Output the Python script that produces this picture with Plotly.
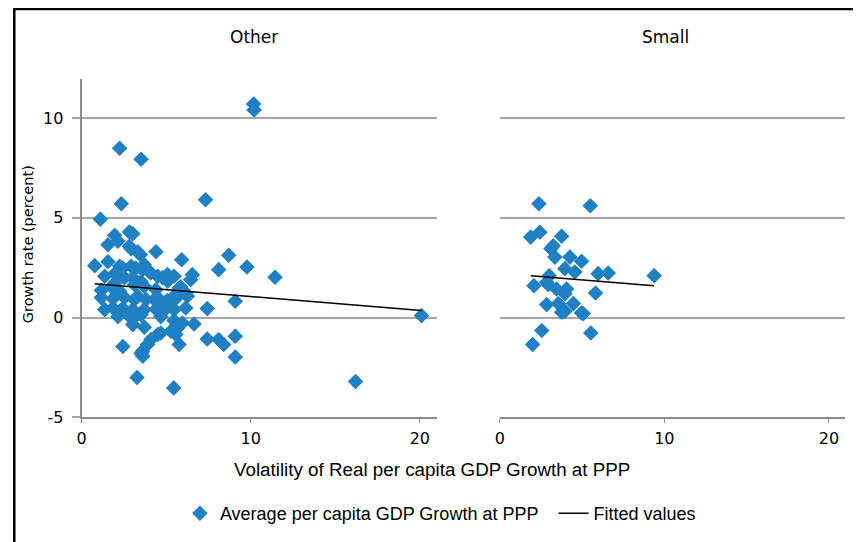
import plotly.graph_objects as go

# "Other" panel scatter (volatility, growth)
other_x = [10.17, 10.2, 2.25, 3.52, 2.35, 7.33, 1.11,
           1.96, 2.83, 3.03, 1.56, 2.15, 2.83, 3.32, 4.4, 3.48, 2.93,
           5.92, 8.7, 8.11, 9.78, 11.44, 6.55, 6.45,
           0.78, 1.56, 2.25, 2.93, 2.44, 3.2, 3.6, 3.71, 4.0, 4.1, 4.79, 5.08, 5.47, 5.08, 4.5,
           1.37, 1.96, 1.96, 2.54, 3.13, 3.03, 3.52, 3.71, 4.4,
           1.17, 1.76, 2.25, 5.77, 6.16, 5.57, 5.87, 6.26,
           1.17, 1.86, 2.54, 3.13, 3.32, 3.81, 4.3, 4.5, 5.08, 5.57, 4.89,
           1.37, 1.86, 2.25, 2.44, 3.03, 3.71, 4.4, 4.99, 5.47, 5.08, 6.16, 7.43, 9.09,
           2.15, 2.83, 3.52, 4.69, 3.2,
           3.03, 3.71, 5.47, 5.96, 6.65, 5.67, 4.69, 5.28, 5.57, 4.5, 4.1, 3.9, 3.6, 3.52,
           3.62, 5.77, 2.44, 7.43, 8.11, 8.4, 9.09, 9.09, 3.28, 5.45, 16.2, 20.1]
other_y = [10.7, 10.4, 8.48, 7.93, 5.7, 5.9, 4.93,
           4.12, 4.28, 4.2, 3.65, 3.82, 3.57, 3.3, 3.3, 3.15, 3.45,
           2.9, 3.12, 2.4, 2.53, 2.02, 2.15, 1.9,
           2.6, 2.8, 2.57, 2.57, 2.48, 2.48, 2.4, 2.65, 2.3, 2.23, 2.0, 1.82, 2.07, 2.15, 2.07,
           2.07, 2.2, 1.73, 2.0, 1.65, 2.0, 1.8, 1.57, 1.4,
           1.37, 1.53, 1.32, 1.48, 1.23, 1.15, 1.53, 1.07,
           1.0, 0.95, 1.0, 0.9, 1.07, 0.9, 0.9, 1.0, 0.85, 0.95, 0.73,
           0.4, 0.48, 0.32, 0.45, 0.4, 0.4, 0.42, 0.45, 0.4, 0.57, 0.48, 0.45, 0.82,
           0.05, 0.07, 0.15, 0.05, 0.07,
           -0.35, -0.48, -0.15, -0.27, -0.32, -0.52, -0.77, -0.68, -0.85, -0.85, -1.1, -1.35, -1.68, -1.8,
           -1.93, -1.35, -1.45, -1.07, -1.1, -1.35, -0.93, -1.97, -3.0, -3.52, -3.2, 0.1]

# "Small" panel scatter
small_x = [2.38, 5.5, 1.88, 2.44, 3.76, 3.11, 3.25, 3.35, 4.26, 4.97, 3.96, 4.56,
           5.98, 6.59, 9.38, 3.01, 2.08, 2.85, 2.95, 3.45, 4.06, 3.96, 5.82,
           2.85, 3.56, 4.47, 3.76, 3.96, 4.97, 5.07, 2.55, 5.53, 2.0]
small_y = [5.7, 5.6, 4.03, 4.27, 4.07, 3.45, 3.6, 3.03, 3.03, 2.82, 2.45, 2.28,
           2.2, 2.23, 2.1, 2.1, 1.6, 1.77, 1.65, 1.43, 1.43, 1.2, 1.23,
           0.65, 0.7, 0.7, 0.27, 0.32, 0.23, 0.2, -0.65, -0.77, -1.35]

# fitted values (endpoints of the linear fit)
other_fit_x = [0.78, 20.1]
other_fit_y = [1.7, 0.35]
small_fit_x = [1.88, 9.38]
small_fit_y = [2.1, 1.6]

x_ticks = [0, 10, 20]
y_ticks = [-5, 0, 5, 10]
y_ticktext = ["-5", "0", "5", "10"]

BLUE = "#1f80c4"
GRID = "#a6a6a6"
AXIS = "#8c8c8c"
TICKFONT = dict(family="DejaVu Sans", size=16, color="black")
LEGFONT = dict(family="Liberation Sans", size=18, color="black")

fig = go.Figure()

fig.add_trace(go.Scatter(
    x=other_x, y=other_y, mode="markers", name="Average per capita GDP Growth at PPP",
    marker=dict(symbol="diamond", size=12, color=BLUE), xaxis="x", yaxis="y", legend="legend",
))
fig.add_trace(go.Scatter(
    x=small_x, y=small_y, mode="markers", showlegend=False,
    marker=dict(symbol="diamond", size=12, color=BLUE), xaxis="x2", yaxis="y2",
))
fig.add_trace(go.Scatter(
    x=other_fit_x, y=other_fit_y, mode="lines", name="Fitted values",
    line=dict(color="black", width=1.5), xaxis="x", yaxis="y", legend="legend2",
))
fig.add_trace(go.Scatter(
    x=small_fit_x, y=small_fit_y, mode="lines", showlegend=False,
    line=dict(color="black", width=1.5), xaxis="x2", yaxis="y2",
))

xcommon = dict(range=[0, 21], tickvals=x_ticks, showgrid=False, zeroline=False,
               showline=True, linecolor=AXIS, linewidth=2, ticks="outside", ticklen=4,
               tickcolor=AXIS, tickfont=TICKFONT, ticklabelstandoff=1)
ycommon = dict(range=[-5, 11.95], tickvals=y_ticks, ticktext=y_ticktext, showgrid=True,
               gridcolor=GRID, gridwidth=1.5, zeroline=False)

# positions are set so the page (with its body margin) lands on the reference pixels
fig.update_layout(
    width=861, height=542,
    margin=dict(l=0, r=0, t=0, b=0),
    paper_bgcolor="white", plot_bgcolor="white",
    xaxis=dict(domain=[0.0801, 0.4950], anchor="y", **xcommon),
    xaxis2=dict(domain=[0.5686, 0.9725], anchor="y2", **xcommon),
    yaxis=dict(domain=[0.2304, 0.8666], anchor="x", showline=True, linecolor=AXIS, linewidth=2,
               ticks="outside", ticklen=8, tickcolor=GRID, tickwidth=1.5, tickfont=TICKFONT,
               ticklabelstandoff=5, **ycommon),
    yaxis2=dict(domain=[0.2304, 0.8666], anchor="x2", showline=False, showticklabels=False,
                **ycommon),
    legend=dict(orientation="h", x=0.1950, y=0.0496, xanchor="left", yanchor="middle",
                font=LEGFONT),
    legend2=dict(orientation="h", x=0.6315, y=0.0496, xanchor="left", yanchor="middle",
                 font=LEGFONT),
    showlegend=True,
    annotations=[
        dict(text="Other", x=0.2814, y=0.9458, xref="paper", yref="paper", showarrow=False,
             xanchor="center", yanchor="middle",
             font=dict(family="DejaVu Sans", size=17, color="black")),
        dict(text="Small", x=0.7624, y=0.9458, xref="paper", yref="paper", showarrow=False,
             xanchor="center", yanchor="middle",
             font=dict(family="DejaVu Sans", size=17, color="black")),
        dict(text="Growth rate (percent)", x=0.0176, y=0.5561, xref="paper", yref="paper",
             showarrow=False, textangle=-90, xanchor="center", yanchor="middle",
             font=dict(family="DejaVu Sans", size=14.5, color="black")),
        dict(text="Volatility of Real per capita GDP Growth at PPP", x=0.4892, y=0.1325,
             xref="paper", yref="paper", showarrow=False, xanchor="center", yanchor="middle",
             font=dict(family="Liberation Sans", size=18.8, color="black")),
    ],
    shapes=[
        dict(type="rect", xref="paper", yref="paper", x0=0.0015, x1=1.2, y0=-0.2, y1=0.998,
             line=dict(color="black", width=2.5)),
    ],
)

fig.write_html("out.html")
